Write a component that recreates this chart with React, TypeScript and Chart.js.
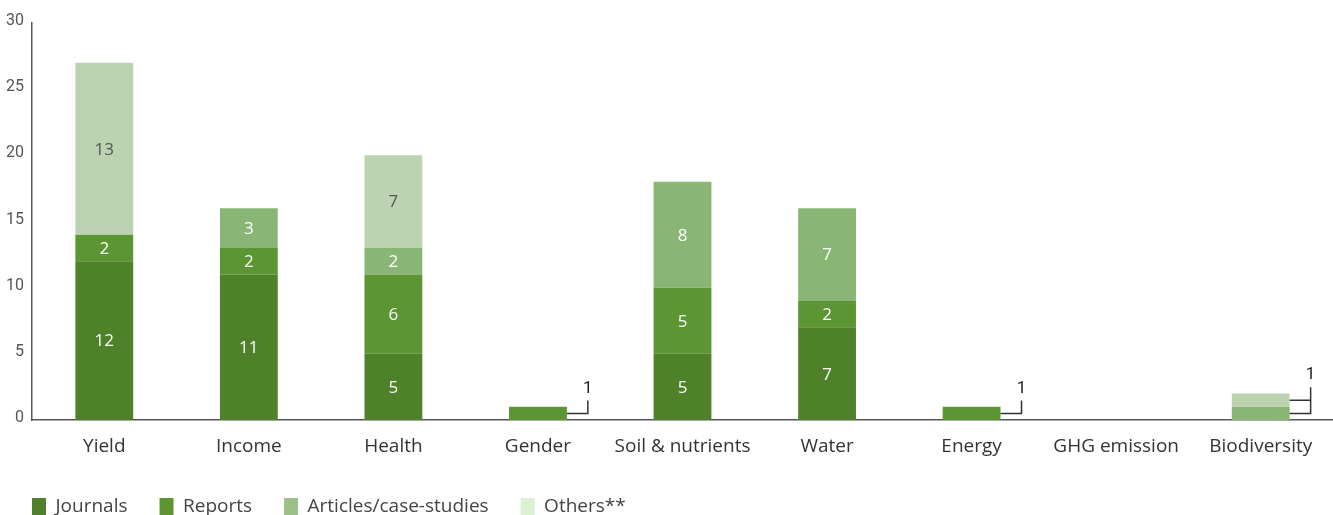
import { useEffect, useRef } from 'react';
import { Chart, registerables } from 'chart.js';

Chart.register(...registerables);

const categories = ['Yield', 'Income', 'Health', 'Gender', 'Soil & nutrients', 'Water', 'Energy', 'GHG emission', 'Biodiversity'];
const journals = [12, 11, 5, 0, 5, 7, 0, 0, 0];
const reports = [2, 2, 6, 1, 5, 2, 1, 0, 0];
const articles = [0, 3, 2, 0, 8, 7, 0, 0, 1];
const others = [13, 0, 7, 0, 0, 0, 0, 0, 1];
const seriesNames = ['Journals', 'Reports', 'Articles/case-studies', 'Others**'];
const barColors = ['#4e8129', '#5b9632', '#89b675', '#bbd3b1'];
const legendColors = ['#4e8129', '#5b9632', '#9bc08a', '#dcf0d4'];
const labelColors = ['#ffffff', '#ffffff', '#ffffff', '#555555'];
const yMax = 30;
const yStep = 5;

const mainFont = "'Open Sans', 'Noto Sans', sans-serif";
const tickFont = "'Roboto', 'Liberation Sans', sans-serif";

const valueLabels = {
  id: 'valueLabels',
  afterDatasetsDraw(chart: any) {
    const ctx = chart.ctx;
    ctx.save();
    ctx.textAlign = 'center';
    ctx.textBaseline = 'middle';
    for (let i = 0; i < categories.length; i++) {
      const small: { xr: number; y: number; v: number }[] = [];
      chart.data.datasets.forEach((ds: any, di: number) => {
        const v = ds.data[i];
        if (!v) return;
        const el = chart.getDatasetMeta(di).data[i];
        const p = el.getProps(['x', 'y', 'base', 'width'], true);
        const h = Math.abs(p.base - p.y);
        const mid = (p.y + p.base) / 2;
        if (h < 20) {
          small.push({ xr: p.x + p.width / 2, y: mid, v });
        } else {
          ctx.font = `17px ${mainFont}`;
          ctx.fillStyle = labelColors[di];
          ctx.fillText(String(v), p.x, mid + 1);
        }
      });
      if (small.length) {
        const xr = small[0].xr;
        const xl = xr + 21;
        const ys = small.map((s) => s.y);
        const lo = Math.max(...ys);
        const hi = Math.min(...ys);
        const top = hi - 13;
        ctx.strokeStyle = '#333333';
        ctx.lineWidth = 1.5;
        ctx.beginPath();
        small.forEach((s) => {
          ctx.moveTo(xr, s.y);
          ctx.lineTo(xl, s.y);
        });
        ctx.moveTo(xl, lo + 0.75);
        ctx.lineTo(xl, top);
        ctx.stroke();
        ctx.font = `17px ${tickFont}`;
        ctx.fillStyle = '#222222';
        ctx.fillText(String(small[small.length - 1].v), xl, top - 12);
      }
    }
    ctx.restore();
  },
};

export default function App() {
  const ref = useRef<HTMLCanvasElement>(null);
  useEffect(() => {
    if (!ref.current) return;
    const chart = new Chart(ref.current, {
      type: 'bar',
      data: {
        labels: categories,
        datasets: [journals, reports, articles, others].map((d, i) => ({
          label: seriesNames[i],
          data: d,
          backgroundColor: barColors[i],
          borderWidth: 0,
          barPercentage: 0.4,
          categoryPercentage: 1,
        })),
      },
      options: {
        animation: false,
        responsive: true,
        maintainAspectRatio: false,
        layout: { padding: { top: 23, right: 0, bottom: 0, left: 0 } },
        scales: {
          x: {
            stacked: true,
            grid: { display: false, drawTicks: false },
            border: { display: true, color: '#555555', width: 1.5 },
            ticks: { color: '#333333', font: { family: mainFont, size: 19 }, padding: 15 },
            afterFit: (s: any) => { s.height = 45; },
          },
          y: {
            stacked: true,
            min: 0,
            max: yMax,
            grid: { display: false, drawTicks: false },
            border: { display: true, color: '#555555', width: 1.5 },
            ticks: { stepSize: yStep, color: '#555555', font: { family: tickFont, size: 16 }, padding: 8, labelOffset: -2 },
            afterFit: (s: any) => { s.width = 32; },
          },
        },
        plugins: {
          tooltip: { enabled: false },
          legend: {
            position: 'bottom',
            align: 'start',
            maxHeight: 50,
            labels: {
              boxWidth: 14,
              boxHeight: 17,
              padding: 32,
              color: '#444444',
              font: { family: mainFont, size: 19 },
              generateLabels(c: any) {
                const items = (Chart.defaults.plugins.legend.labels as any).generateLabels(c);
                items.forEach((it: any, i: number) => {
                  it.fillStyle = legendColors[i];
                  it.strokeStyle = legendColors[i];
                  it.lineWidth = 0;
                });
                return items;
              },
            },
          },
        },
      } as any,
      plugins: [valueLabels],
    });
    return () => chart.destroy();
  }, []);
  return (
    <div style={{ position: 'fixed', left: 0, top: 0, width: 1333, height: 515, background: '#ffffff' }}>
      <canvas ref={ref} />
    </div>
  );
}
